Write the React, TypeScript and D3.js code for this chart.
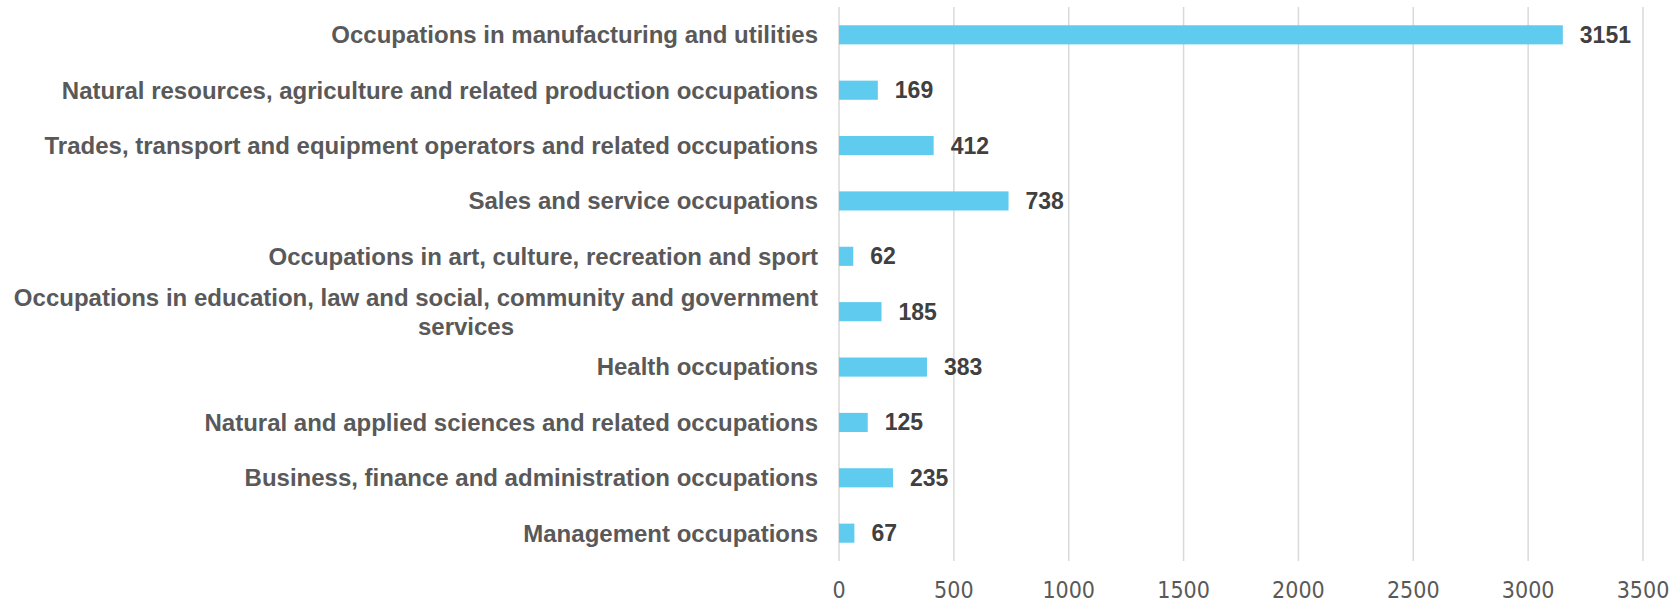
import React, { useEffect, useRef } from 'react'
import * as d3 from 'd3'

const categories = [
  'Occupations in manufacturing and utilities',
  'Natural resources, agriculture and related production occupations',
  'Trades, transport and equipment operators and related occupations',
  'Sales and service occupations',
  'Occupations in art, culture, recreation and sport',
  'Occupations in education, law and social, community and government|services',
  'Health occupations',
  'Natural and applied sciences and related occupations',
  'Business, finance and administration occupations',
  'Management occupations',
]
const values = [3151, 169, 412, 738, 62, 185, 383, 125, 235, 67]
const ticks = [0, 500, 1000, 1500, 2000, 2500, 3000, 3500]

const width = 1672
const height = 603

export default function App() {
  const ref = useRef<SVGSVGElement>(null)

  useEffect(() => {
    const svg = d3.select(ref.current)
    svg.selectAll('*').remove()

    const left = 839
    const right = 1643
    const top = 7
    const bottom = 561

    const x = d3.scaleLinear().domain([0, 3500]).range([left, right])
    const y = d3.scaleBand().domain(categories).range([top, bottom]).paddingInner(0.655).paddingOuter(0.33)

    // gridlines
    svg.append('g')
      .selectAll('line')
      .data(ticks)
      .enter()
      .append('line')
      .attr('x1', d => x(d))
      .attr('x2', d => x(d))
      .attr('y1', top)
      .attr('y2', bottom)
      .attr('stroke', '#d9d9d9')
      .attr('stroke-width', 1.5)

    // tick labels
    svg.append('g')
      .selectAll('text')
      .data(ticks)
      .enter()
      .append('text')
      .attr('x', d => x(d))
      .attr('y', 590)
      .attr('dy', '0.35em')
      .attr('text-anchor', 'middle')
      .attr('font-family', '"Liberation Sans Narrow", "DejaVu Sans Condensed", sans-serif')
      .attr('font-size', 23)
      .attr('fill', '#595959')
      .text(d => d)

    const rows = categories.map((c, i) => ({ c, v: values[i] }))

    svg.append('g')
      .selectAll('rect')
      .data(rows)
      .enter()
      .append('rect')
      .attr('x', x(0))
      .attr('y', d => y(d.c)!)
      .attr('width', d => x(d.v) - x(0))
      .attr('height', y.bandwidth())
      .attr('fill', '#5ecbef')

    // value labels
    svg.append('g')
      .selectAll('text')
      .data(rows)
      .enter()
      .append('text')
      .attr('x', d => x(d.v) + 17)
      .attr('y', d => y(d.c)! + y.bandwidth() / 2)
      .attr('dy', '0.35em')
      .attr('font-family', '"Liberation Sans", Arial, sans-serif')
      .attr('font-weight', 'bold')
      .attr('font-size', 23)
      .attr('fill', '#404040')
      .text(d => d.v)

    // category labels, '|' marks a line break
    const labels = svg.append('g')
      .selectAll('text')
      .data(rows)
      .enter()
      .append('text')
      .attr('font-family', '"Liberation Sans", Arial, sans-serif')
      .attr('font-weight', 'bold')
      .attr('font-size', 24)
      .attr('fill', '#595959')

    labels.each(function (d) {
      const lines = d.c.split('|')
      const cy = y(d.c)! + y.bandwidth() / 2
      const t = d3.select(this)
      lines.forEach((l, k) => {
        t.append('tspan')
          .attr('x', k === 0 ? 818 : 466)
          .attr('text-anchor', k === 0 ? 'end' : 'middle')
          .attr('y', cy + (k - (lines.length - 1) / 2) * 29)
          .attr('dy', '0.35em')
          .text(l)
      })
    })
  }, [])

  return (
    <svg ref={ref} width={width} height={height}
      style={{ position: 'absolute', left: 0, top: 0, background: '#fff' }} />
  )
}
